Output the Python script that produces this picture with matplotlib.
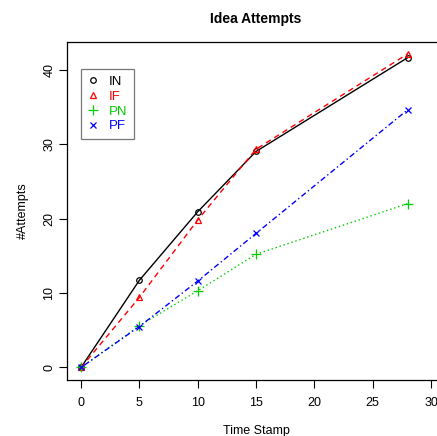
import matplotlib
matplotlib.use("Agg")
import matplotlib.pyplot as plt

plt.rcParams['font.family'] = ['Liberation Sans', 'DejaVu Sans']

# data
time_stamp = [0, 5, 10, 15, 28]
att_in = [0, 11.7, 20.9, 29.0, 41.6]
att_if = [0, 9.4, 19.8, 29.3, 42.1]
att_pn = [0, 5.6, 10.3, 15.2, 22.0]
att_pf = [0, 5.5, 11.6, 18.0, 34.6]
x_ticks = [0, 5, 10, 15, 20, 25, 30]
y_ticks = [0, 10, 20, 30, 40]

fig = plt.figure(figsize=(4.37, 4.36), dpi=100)
ax = fig.add_axes([67 / 437, 56 / 436, 378 / 437, 338 / 436])

ax.plot(time_stamp, att_in, color='black', ls='-', lw=1, marker='o',
        mfc='none', ms=4, mew=0.9, label='IN')
ax.plot(time_stamp, att_if, color='#FF0000', ls=(0, (4, 3)), lw=1, marker='^',
        mfc='none', ms=5, mew=0.9, label='IF')
ax.plot(time_stamp, att_pn, color='#00CD00', ls=(0, (1, 2)), lw=1, marker='+',
        ms=7, mew=0.9, label='PN')
ax.plot(time_stamp, att_pf, color='#0000FF', ls=(0, (1, 2, 4, 2)), lw=1, marker='x',
        ms=5, mew=0.9, label='PF')

ax.set_xlim(-1.2, 31.2)
ax.set_ylim(-1.68, 43.7)
ax.set_xticks(x_ticks)
ax.set_yticks(y_ticks)
ax.tick_params(direction='out', length=6, width=0.8, labelsize=9)
ax.tick_params(axis='x', pad=6)
ax.tick_params(axis='y', pad=2.5)
for lab in ax.get_yticklabels():
    lab.set_rotation(90)
    lab.set_va('center')
for sp in ax.spines.values():
    sp.set_linewidth(0.9)

ax.set_title('Idea Attempts', fontsize=10, fontweight='bold', pad=14)
ax.set_xlabel('Time Stamp', fontsize=9, labelpad=12)
ax.set_ylabel('#Attempts', fontsize=9, labelpad=10)

leg = ax.legend(handles=[h for h in ax.get_lines()], loc='upper left',
                bbox_to_anchor=(0.037, 0.92), borderaxespad=0, fontsize=9.5,
                frameon=True, fancybox=False, edgecolor='#555555',
                handlelength=0.8, handletextpad=0.8, borderpad=0.5,
                labelspacing=0.2,
                labelcolor=['black', '#FF0000', '#00CD00', '#0000FF'])
for h in leg.legend_handles:
    h.set_linestyle('none')
leg.get_frame().set_linewidth(0.9)

fig.savefig('out.png', dpi=100)
